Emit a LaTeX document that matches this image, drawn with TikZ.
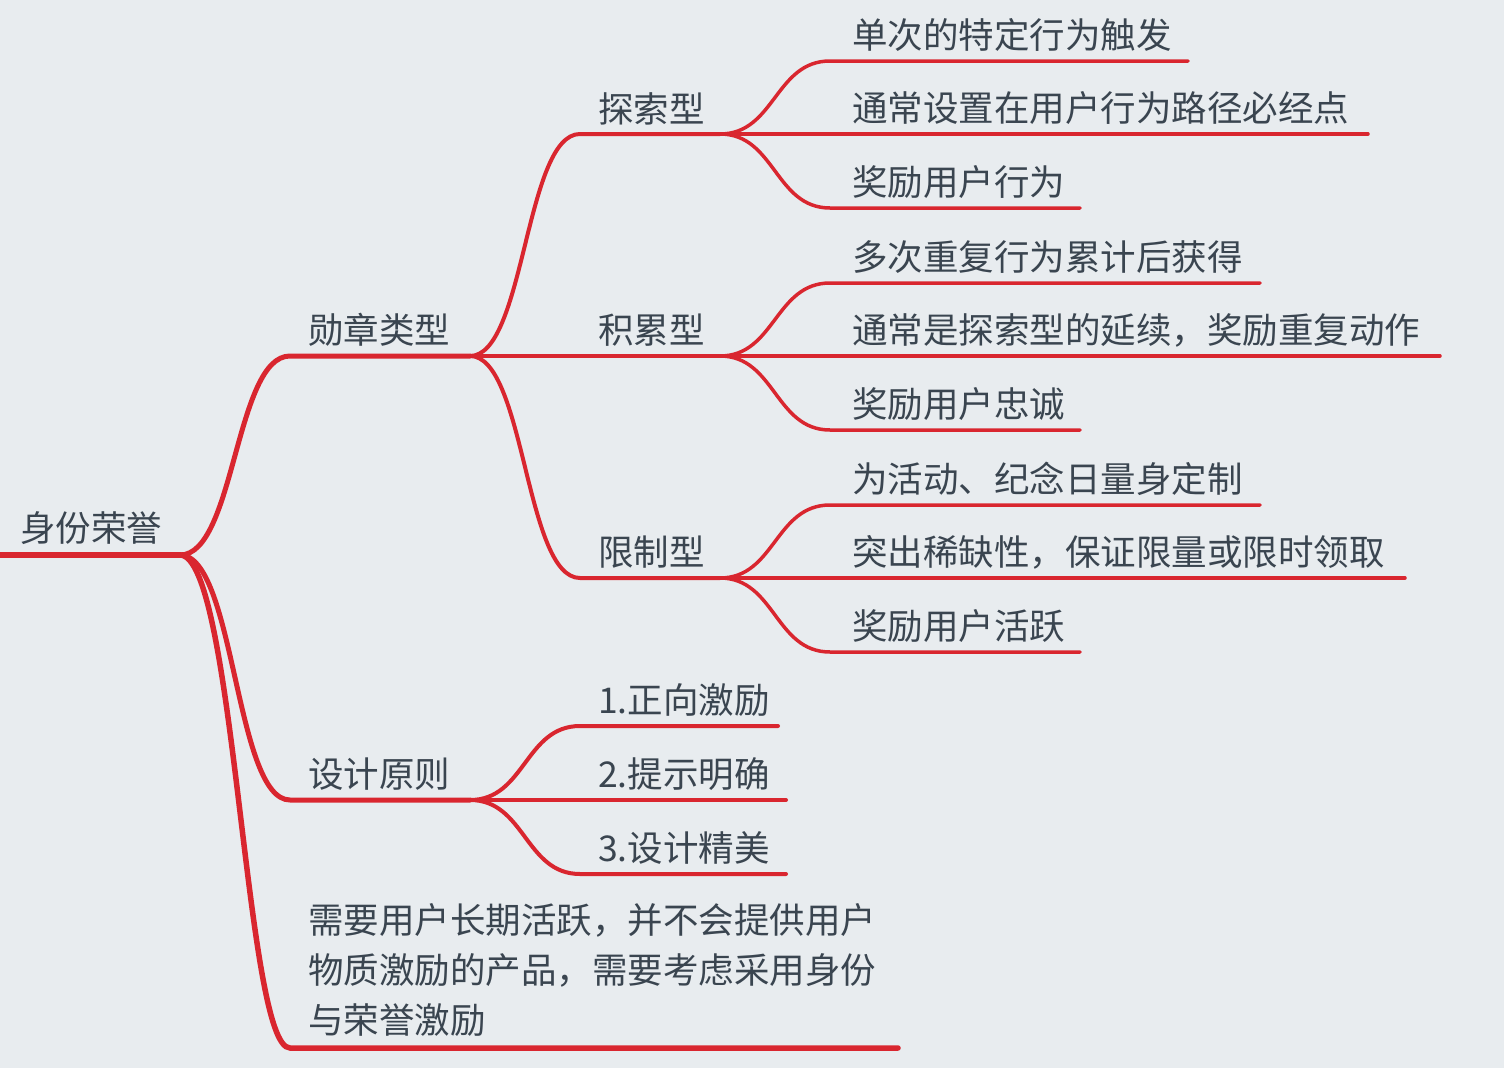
\documentclass[tikz,border=0pt]{standalone}
\usepackage{fontspec}
\setmainfont{Noto Sans CJK SC}
\definecolor{bg}{HTML}{E8ECEF}
\definecolor{br}{HTML}{D9262F}
\definecolor{tx}{HTML}{3A4550}
\begin{document}
\begin{tikzpicture}[x=1pt,y=-1pt,
  lbl/.style={anchor=south west,inner sep=0pt,text=tx,font=\fontsize{35.5}{42}\selectfont},
  ln/.style={draw=br,line cap=round}]
\fill[bg] (0,0) rectangle (1504,1068);
\useasboundingbox (0,0) rectangle (1504,1068);
\coordinate (r0) at (0,555); \coordinate (r1) at (180,555);
\draw[ln,line width=6] (r0) -- (r1);
\node[lbl] (root) at (20,545) {身份荣誉};
% #1 parent name, #2 parent x, #3 parent y, #4 name, #5 x start, #6 y, #7 x end, #8 width, #9 text
\newcommand\mybranch[9]{%
  \coordinate (#4s) at (#5,#6); \coordinate (#4e) at (#7,#6);
  \draw[ln,line width=#8] (#1) .. controls ({(#2+#5)/2},#3) and ({(#2+#5)/2},#6) .. (#4s) -- (#4e);
  \node[lbl] (#4) at ({#5+(#5>700?22:18)},#6-9) {#9};}
\mybranch{r1}{180}{555}{a}{290}{356}{470}{5}{勋章类型}
\mybranch{r1}{180}{555}{b}{290}{800}{470}{5}{设计原则}
\coordinate (cs) at (290,1048); \coordinate (ce) at (898,1048);
\draw[ln,line width=5.5] (r1) .. controls (235,555) and (245,1048) .. (cs) -- (ce);
\node[lbl,anchor=north west,align=left,font=\fontsize{35.5}{50}\selectfont] (c) at (308,903) {需要用户长期活跃，并不会提供用户\\物质激励的产品，需要考虑采用身份\\与荣誉激励};
\mybranch{ae}{470}{356}{a1}{580}{134}{720}{4}{探索型}
\mybranch{ae}{470}{356}{a2}{580}{356}{720}{4}{积累型}
\mybranch{ae}{470}{356}{a3}{580}{578}{720}{4}{限制型}
\mybranch{a1e}{720}{134}{a11}{830}{61}{1188}{3.5}{单次的特定行为触发}
\mybranch{a1e}{720}{134}{a12}{830}{134}{1368}{3.5}{通常设置在用户行为路径必经点}
\mybranch{a1e}{720}{134}{a13}{830}{208}{1080}{3.5}{奖励用户行为}
\mybranch{a2e}{720}{356}{a21}{830}{283}{1260}{3.5}{多次重复行为累计后获得}
\mybranch{a2e}{720}{356}{a22}{830}{356}{1440}{3.5}{通常是探索型的延续，奖励重复动作}
\mybranch{a2e}{720}{356}{a23}{830}{430}{1080}{3.5}{奖励用户忠诚}
\mybranch{a3e}{720}{578}{a31}{830}{505}{1260}{3.5}{为活动、纪念日量身定制}
\mybranch{a3e}{720}{578}{a32}{830}{578}{1405}{3.5}{突出稀缺性，保证限量或限时领取}
\mybranch{a3e}{720}{578}{a33}{830}{652}{1080}{3.5}{奖励用户活跃}
\mybranch{be}{470}{800}{b1}{580}{726}{778}{4}{1.正向激励}
\mybranch{be}{470}{800}{b2}{580}{800}{786}{4}{2.提示明确}
\mybranch{be}{470}{800}{b3}{580}{874}{786}{4}{3.设计精美}
\end{tikzpicture}
\end{document}
